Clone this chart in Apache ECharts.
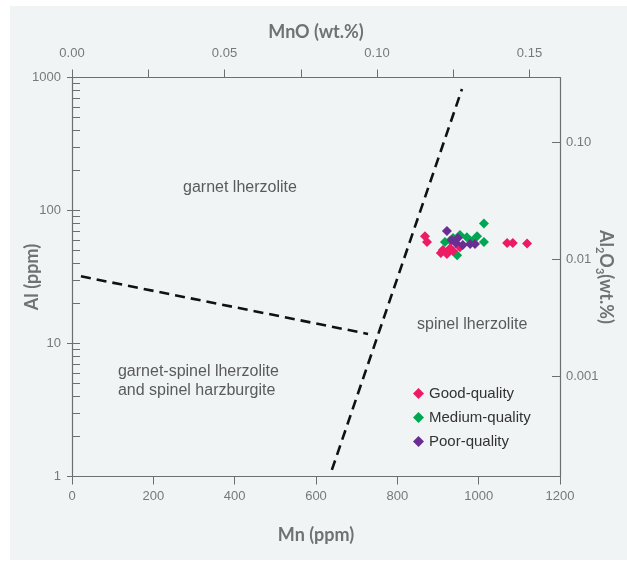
<!DOCTYPE html>
<html>
<head>
<meta charset="utf-8">
<script src="https://cdn.jsdelivr.net/npm/echarts@6/dist/echarts.min.js"></script>
<style>
  html, body { margin: 0; padding: 0; background: #fff; }
  #chart { width: 627px; height: 569px; }
</style>
</head>
<body>
<div id="chart"></div>
<script>
// samples, [Mn ppm, Al ppm]
var goodQuality = [
  [868, 64], [873, 58], [912, 50.5], [922, 47], [907, 48],
  [930, 52], [937, 49.5], [954, 53], [1070, 57], [1084, 57], [1119, 56.5]
];
var mediumQuality = [
  [1013, 80], [917, 58], [954, 65.5], [971, 63], [996, 64],
  [1013, 58], [947, 46], [937, 62], [984, 59], [930, 59.5]
];
var poorQuality = [
  [922, 70], [934, 60], [944, 57], [961, 55], [979, 56], [991, 56], [949, 62]
];

// boundary lines
var boundarySteep = [[639, 1.12], [959, 820]];
var boundaryFlat = [[22, 32], [728, 11.8]];

// field labels [Mn, Al, text]
var fieldLabels = [
  [413, 148, 'garnet lherzolite'],
  [984, 13.8, 'spinel lherzolite']
];
var fieldLabelLeft = [[113, 5.2, 'garnet-spinel lherzolite\nand spinel harzburgite']];

// axis ticks
var mnTicks = [0, 200, 400, 600, 800, 1000, 1200];
var mnoTicks = [0, 0.025, 0.05, 0.075, 0.1, 0.125, 0.15];
var mnoLabels = [0, 0.05, 0.1, 0.15];
var alLabels = [1, 10, 100, 1000];
var alMinor = [1, 2, 3, 4, 5, 6, 7, 8, 9, 10, 20, 30, 40, 50, 60, 70, 80, 90,
  100, 200, 300, 400, 500, 600, 700, 800, 900, 1000];
var al2o3Labels = [0.001, 0.01, 0.1];

var axisGray = '#6d6e70';
var nameStyle = { fontFamily: 'Lato', fontWeight: 'bold', fontSize: 18, color: '#707173' };
var tickFont = { fontFamily: 'Liberation Sans', fontSize: 13, color: '#77787a' };

var myChart = echarts.init(document.getElementById('chart'));
var option = {
  animation: false,
  backgroundColor: '#fff',
  graphic: [{
    type: 'rect', z: -10, silent: true,
    shape: { x: 10, y: 6, width: 617, height: 554 },
    style: { fill: '#f1f4f5' }
  }],
  grid: { left: 72, right: 67, top: 77.5, bottom: 92.5, containLabel: false, outerBoundsMode: 'none' },
  legend: {
    data: ['Good-quality', 'Medium-quality', 'Poor-quality'],
    orient: 'vertical',
    left: 408, top: 381,
    itemGap: 9,
    itemWidth: 11, itemHeight: 11,
    icon: 'diamond',
    textStyle: { fontFamily: 'Liberation Sans', fontSize: 15, color: '#333' }
  },
  xAxis: [
    {
      type: 'value', position: 'bottom', min: 0, max: 1200, interval: 200,
      name: 'Mn (ppm)', nameLocation: 'middle', nameGap: 50, nameMoveOverlap: false,
      nameTextStyle: nameStyle,
      axisLine: { lineStyle: { color: axisGray, width: 1.2 } },
      axisTick: { inside: false, length: 8, customValues: mnTicks, lineStyle: { color: axisGray } },
      axisLabel: Object.assign({
        margin: 13, customValues: mnTicks,
        formatter: function (v) { return String(v); }
      }, tickFont),
      splitLine: { show: false }
    },
    {
      type: 'value', position: 'top', min: 0, max: 0.16,
      name: 'MnO (wt.%)', nameLocation: 'middle', nameGap: 36, nameMoveOverlap: false,
      nameTextStyle: nameStyle,
      axisLine: { lineStyle: { color: axisGray, width: 1.2 } },
      axisTick: { inside: false, length: 8, customValues: mnoTicks, lineStyle: { color: axisGray } },
      axisLabel: Object.assign({
        margin: 18, customValues: mnoLabels,
        formatter: function (v) { return v.toFixed(2); }
      }, tickFont),
      splitLine: { show: false }
    }
  ],
  yAxis: [
    {
      type: 'log', logBase: 10, position: 'left', min: 1, max: 1000,
      name: 'Al (ppm)', nameLocation: 'middle', nameGap: 31, nameMoveOverlap: false,
      nameTextStyle: nameStyle,
      axisLine: { lineStyle: { color: axisGray, width: 1.2 } },
      axisTick: { inside: false, length: 5, customValues: alLabels, lineStyle: { color: axisGray } },
      axisLabel: Object.assign({
        margin: 11, customValues: alLabels,
        formatter: function (v) { return String(v); }
      }, tickFont),
      splitLine: { show: false }
    },
    {
      type: 'log', logBase: 10, position: 'left', min: 1, max: 1000,
      axisLine: { show: false },
      axisTick: { inside: true, length: 8, customValues: alMinor, lineStyle: { color: axisGray } },
      axisLabel: { show: false },
      splitLine: { show: false }
    },
    {
      type: 'log', logBase: 10, position: 'right', min: 0.0001397, max: 0.3594,
      name: '{b|Al}{s|2}{b|O}{s|3}{b|(wt.%)}', nameLocation: 'middle', nameGap: 34,
      nameRotate: -90, nameMoveOverlap: false,
      nameTextStyle: {
        rich: {
          b: { fontFamily: 'Lato', fontWeight: 'bold', fontSize: 18, color: '#707173', lineHeight: 24 },
          s: { fontFamily: 'Lato', fontWeight: 'bold', fontSize: 11, color: '#707173', lineHeight: 11, verticalAlign: 'bottom' }
        }
      },
      axisLine: { lineStyle: { color: axisGray, width: 1.2 } },
      axisTick: { inside: true, length: 8, customValues: al2o3Labels, lineStyle: { color: axisGray } },
      axisLabel: Object.assign({
        margin: 6, customValues: al2o3Labels,
        formatter: function (v) { return v === 0.1 ? '0.10' : String(v); }
      }, tickFont),
      splitLine: { show: false }
    }
  ],
  series: [
    {
      type: 'line', data: boundarySteep, symbol: 'none', silent: true,
      lineStyle: { color: '#111', width: 2.6, type: [10, 6] }
    },
    {
      type: 'line', data: boundaryFlat, symbol: 'none', silent: true,
      lineStyle: { color: '#111', width: 2.6, type: [10, 6] }
    },
    {
      type: 'scatter', data: fieldLabels, symbolSize: 0, silent: true,
      label: {
        show: true, position: 'inside', formatter: function (p) { return p.value[2]; },
        fontFamily: 'Liberation Sans', fontSize: 16, color: '#333'
      }
    },
    {
      type: 'scatter', data: fieldLabelLeft, symbolSize: 0, silent: true,
      label: {
        show: true, position: 'right', distance: 0, align: 'left', lineHeight: 19,
        formatter: function (p) { return p.value[2]; },
        fontFamily: 'Liberation Sans', fontSize: 16, color: '#333'
      }
    },
    {
      name: 'Medium-quality', type: 'scatter', data: mediumQuality,
      symbol: 'diamond', symbolSize: 10, itemStyle: { color: '#00a651', opacity: 1 }
    },
    {
      name: 'Good-quality', type: 'scatter', data: goodQuality,
      symbol: 'diamond', symbolSize: 10, itemStyle: { color: '#ec1c64', opacity: 1 }
    },
    {
      name: 'Poor-quality', type: 'scatter', data: poorQuality,
      symbol: 'diamond', symbolSize: 10, itemStyle: { color: '#6a2d91', opacity: 1 }
    }
  ]
};
myChart.setOption(option);
</script>
</body>
</html>
